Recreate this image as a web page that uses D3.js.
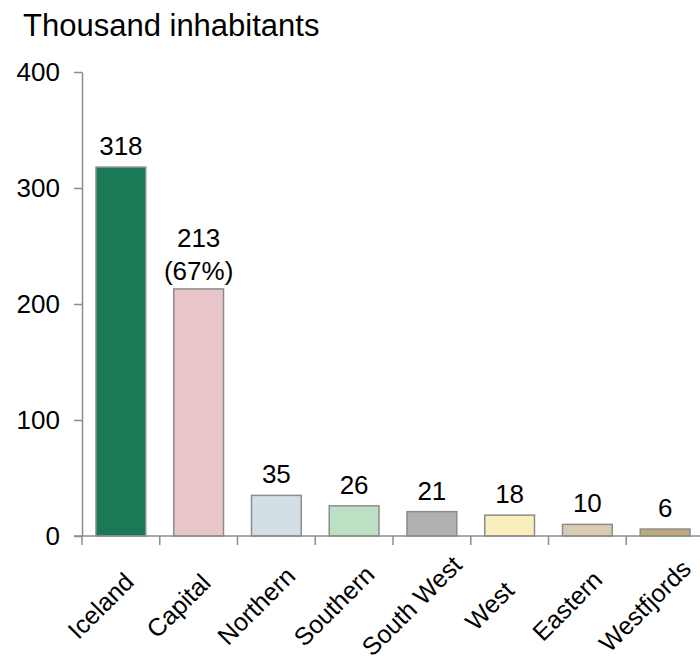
<!DOCTYPE html>
<html>
<head>
<meta charset="utf-8">
<script src="https://cdn.jsdelivr.net/npm/d3@7"></script>
<style>
  body { margin: 0; background: #fff; }
  svg { font-family: Arial, "Liberation Sans", sans-serif; }
</style>
</head>
<body>
<svg width="700" height="663"></svg>
<script>
// regions and population (thousands)
let regions = ["Iceland", "Capital", "Northern", "Southern", "South West", "West", "Eastern", "Westfjords"];
let population = [318, 213, 35, 26, 21, 18, 10, 6];
let shareLabels = ["", "(67%)", "", "", "", "", "", ""];
let barColors = ["#1a7a55", "#e7c5c8", "#d3dfe5", "#bde0c4", "#b0b0b0", "#f8efbd", "#d9ccb2", "#bca979"];
let yTicks = [0, 100, 200, 300, 400];

let svg = d3.select("svg");

let x = d3.scaleBand()
    .domain(regions)
    .range([82, 704])
    .paddingInner(0.36)
    .paddingOuter(0.18);

let y = d3.scaleLinear()
    .domain([0, 400])
    .range([536, 72]);

// title
svg.append("text")
    .attr("x", 23)
    .attr("y", 36)
    .style("font-size", "31px")
    .text("Thousand inhabitants");

// y axis
let yAxis = svg.append("g")
    .attr("transform", "translate(82,0)")
    .call(d3.axisLeft(y).tickValues(yTicks).tickSize(8).tickPadding(14).tickSizeOuter(0));
yAxis.selectAll("text").style("font-size", "26px").attr("fill", "#000");
yAxis.selectAll("line, path").attr("stroke", "#8c8c8c").attr("stroke-width", 1.5);

// bars
svg.append("g")
    .selectAll("rect")
    .data(regions)
    .join("rect")
    .attr("x", d => x(d))
    .attr("y", (d, i) => y(population[i]))
    .attr("width", x.bandwidth())
    .attr("height", (d, i) => y(0) - y(population[i]))
    .attr("fill", (d, i) => barColors[i])
    .attr("stroke", "#8c8c8c")
    .attr("stroke-width", 1.5);

// x axis - ticks between bands
let step = x.step();
let xTickPos = d3.range(regions.length + 1).map(i => 82 + i * step);
let xAxis = svg.append("g");
xAxis.append("line")
    .attr("x1", 74).attr("x2", 704)
    .attr("y1", y(0)).attr("y2", y(0))
    .attr("stroke", "#8c8c8c").attr("stroke-width", 1.5);
xAxis.selectAll("line.tick")
    .data(xTickPos)
    .join("line")
    .attr("class", "tick")
    .attr("x1", d => d).attr("x2", d => d)
    .attr("y1", y(0)).attr("y2", y(0) + 9)
    .attr("stroke", "#8c8c8c").attr("stroke-width", 1.5);

// category labels, centred on a point below each band
svg.append("g")
    .selectAll("text")
    .data(regions)
    .join("text")
    .attr("transform", d => "translate(" + (x(d) + x.bandwidth() / 2 - 14) + "," + (y(0) + 76) + ") rotate(-45)")
    .attr("text-anchor", "middle")
    .style("font-size", "25px")
    .text(d => d);

// value labels
let labels = svg.append("g");
labels.selectAll("text.val")
    .data(regions)
    .join("text")
    .attr("class", "val")
    .attr("x", d => x(d) + x.bandwidth() / 2)
    .attr("y", (d, i) => y(population[i]) - (shareLabels[i] ? 42 : 12))
    .attr("text-anchor", "middle")
    .style("font-size", "26px")
    .text((d, i) => population[i]);
labels.selectAll("text.share")
    .data(regions.filter((d, i) => shareLabels[i]))
    .join("text")
    .attr("class", "share")
    .attr("x", d => x(d) + x.bandwidth() / 2)
    .attr("y", d => y(population[regions.indexOf(d)]) - 9)
    .attr("text-anchor", "middle")
    .style("font-size", "26px")
    .text(d => shareLabels[regions.indexOf(d)]);
</script>
</body>
</html>
